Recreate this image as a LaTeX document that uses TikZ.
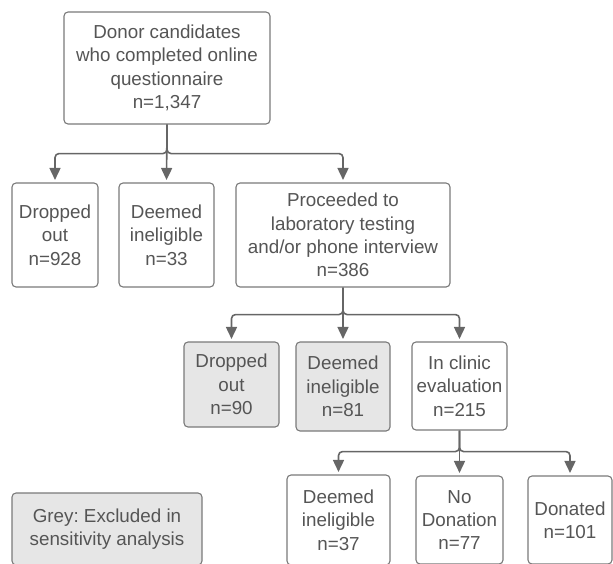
\documentclass[tikz,border=0pt]{standalone}
\usepackage{fontspec}
\setmainfont{Liberation Sans}
\usetikzlibrary{arrows.meta}
\definecolor{txt}{HTML}{555555}
\definecolor{ln}{HTML}{666666}
\definecolor{bd}{HTML}{7A7A7A}
\definecolor{gfill}{HTML}{E6E6E6}
\frenchspacing
\begin{document}
\begin{tikzpicture}[x=1pt,y=-1pt,
  box/.style={draw=bd, line width=1.1pt, rounded corners=4pt, fill=white, text=txt,
    align=center, font=\fontsize{18.8}{23.3}\selectfont, inner sep=0pt},
  gbox/.style={box, fill=gfill},
  conn/.style={draw=ln, line width=1.6pt, rounded corners=4pt,
    -{Triangle[width=11pt,length=12pt]}, shorten >=2.5pt}]
\clip (0,0) rectangle (613,563);
\useasboundingbox (0,0) rectangle (613,563);
% level 0
\node[box, minimum width=206pt, minimum height=112pt] (top) at (167,68)
  {Donor candidates\\who completed online\\questionnaire\\n=1,347};
% level 1
\node[box, minimum width=86pt, minimum height=104pt] (drop1) at (55,235)
  {Dropped\\out\\n=928};
\node[box, minimum width=95pt, minimum height=104pt] (inel1) at (166.5,235)
  {Deemed\\ineligible\\n=33};
\node[box, minimum width=214pt, minimum height=104pt] (proc) at (343,235)
  {Proceeded to\\laboratory testing\\and/or phone interview\\n=386};
% level 2
\node[gbox, minimum width=95pt, minimum height=85pt] (drop2) at (231.5,384.5)
  {Dropped\\out\\n=90};
\node[gbox, minimum width=94pt, minimum height=89pt] (inel2) at (343,386.5)
  {Deemed\\ineligible\\n=81};
\node[box, minimum width=95pt, minimum height=88pt] (clinic) at (459.5,386)
  {In clinic\\evaluation\\n=215};
% level 3
\node[box, minimum width=103pt, minimum height=90pt] (inel3) at (338.5,520)
  {Deemed\\ineligible\\n=37};
\node[box, minimum width=87pt, minimum height=88pt] (nodon) at (459.5,520)
  {No\\Donation\\n=77};
\node[box, minimum width=84pt, minimum height=88pt] (donated) at (570,520)
  {Donated\\n=101};
% legend
\node[gbox, minimum width=190pt, minimum height=72pt] (legend) at (107,529)
  {Grey: Excluded in\\sensitivity analysis};
% connectors
\draw[conn] (top.south) -- ++(0,29) -| (drop1.north);
\draw[conn] (top.south) -- (inel1.north);
\draw[conn] (top.south) -- ++(0,29) -| (proc.north);
\draw[conn] (proc.south) -- ++(0,27) -| (drop2.north);
\draw[conn] (proc.south) -- (inel2.north);
\draw[conn] (proc.south) -- ++(0,27) -| (clinic.north);
\draw[conn] (clinic.south) -- ++(0,21) -| (inel3.north);
\draw[conn] (clinic.south) -- (nodon.north);
\draw[conn] (clinic.south) -- ++(0,21) -| (donated.north);
\end{tikzpicture}
\end{document}
